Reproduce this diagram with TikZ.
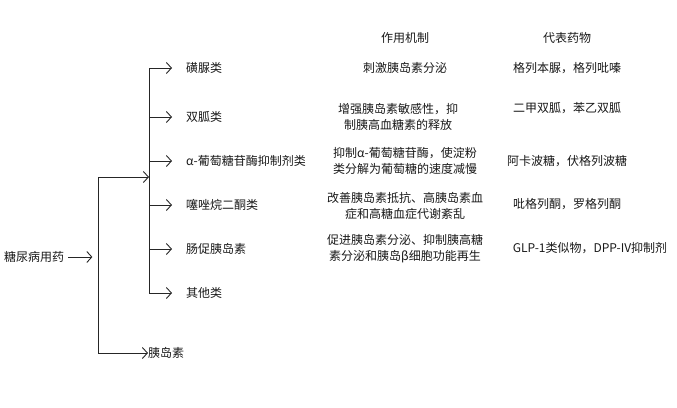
\documentclass[tikz,border=0pt]{standalone}
\usepackage{fontspec}
\newfontfamily\cjk{Noto Sans CJK SC}
\usetikzlibrary{arrows.meta}
\begin{document}
\begin{tikzpicture}[x=1pt,y=-1pt,
  txt/.style={font=\cjk\fontsize{12}{16}\selectfont,text=black!90,inner sep=0pt},
  mech/.style={txt,align=center},
  ln/.style={draw=black!85,line width=0.9pt},
  arr/.style={ln,-{Straight Barb[length=5pt,width=11pt]}}]
\useasboundingbox (0,0) rectangle (677,407);
\node[txt,anchor=west] (root) at (4,257) {糖尿病用药};
\draw[arr] (root.east)++(4,0) -- ++(24,0);
\coordinate (t1) at (98,177);
\coordinate (b1) at (98,353);
\node[txt,anchor=west] (ins) at (148,353) {胰岛素};
\coordinate (j) at (149,177);
\draw[ln] (t1) -- (b1);
\draw[arr] (t1) -- (j);
\draw[arr] (b1) -- (ins.west);
\draw[ln] (149,68) -- (149,293);
\foreach \y/\n/\t in {68/c1/磺脲类,117/c2/双胍类,161/c3/α-葡萄糖苷酶抑制剂类,205/c4/噻唑烷二酮类,249/c5/肠促胰岛素,293/c6/其他类}{
  \node[txt,anchor=west] (\n) at (186,\y) {\t};
  \coordinate (s\n) at (149,\y);
  \draw[arr] (s\n) -- (172,\y);
}
\node[txt] (h1) at (405,38) {作用机制};
\node[txt] (h2) at (567,38) {代表药物};
\node[mech] (m1) at (405,68) {刺激胰岛素分泌};
\node[mech] (m2) at (398,117) {增强胰岛素敏感性，抑\\制胰高血糖素的释放};
\node[mech] (m3) at (405,161) {抑制α-葡萄糖苷酶，使淀粉\\类分解为葡萄糖的速度减慢};
\node[mech] (m4) at (405,206) {改善胰岛素抵抗、高胰岛素血\\症和高糖血症代谢紊乱};
\node[mech] (m5) at (405,249) {促进胰岛素分泌、抑制胰高糖\\素分泌和胰岛β细胞功能再生};
\node[txt] (d1) at (567,68) {格列本脲，格列吡嗪};
\node[txt] (d2) at (567,108) {二甲双胍，苯乙双胍};
\node[txt] (d3) at (567,161) {阿卡波糖，伏格列波糖};
\node[txt] (d4) at (567,204) {吡格列酮，罗格列酮};
\node[txt] (d5) at (590,248) {GLP-1类似物，DPP-IV抑制剂};
\end{tikzpicture}
\end{document}
